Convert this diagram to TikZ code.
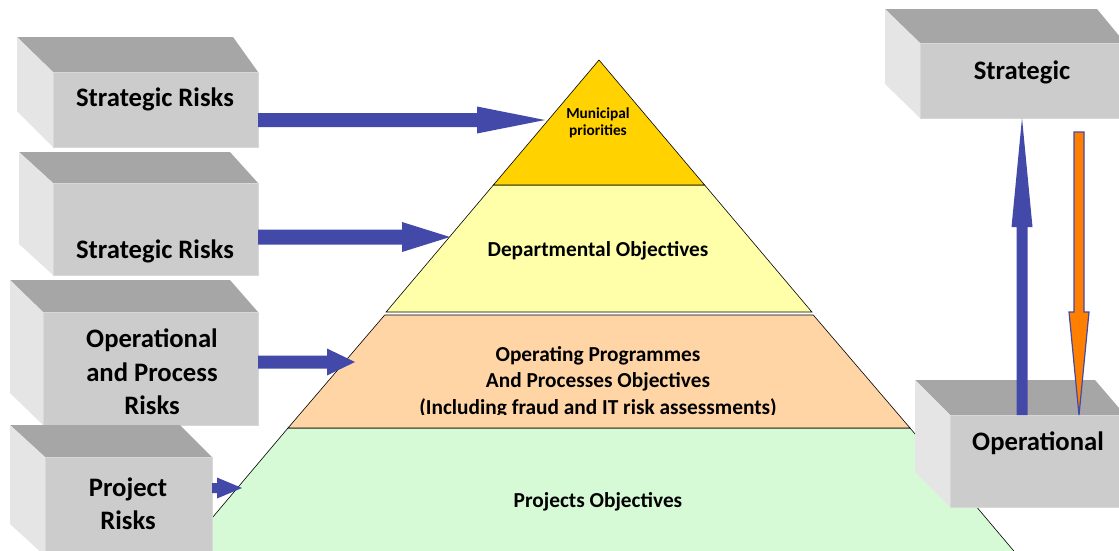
\documentclass[tikz,border=0pt]{standalone}
\usepackage{fontspec}
\setmainfont{Carlito}
\usetikzlibrary{calc,fit}
\definecolor{arrowblue}{RGB}{67,73,168}
\definecolor{topgray}{RGB}{166,166,166}
\definecolor{frontgray}{RGB}{204,204,204}
\definecolor{leftgray}{RGB}{229,229,229}
\definecolor{edgegray}{RGB}{216,216,216}
\definecolor{goldband}{RGB}{255,210,0}
\definecolor{yellowband}{RGB}{255,255,170}
\definecolor{peachband}{RGB}{255,213,166}
\definecolor{greenband}{RGB}{213,250,213}
\definecolor{arroworange}{RGB}{255,128,0}

% #1 name, #2 back-left x, #3 back y, #4 back-right x, #5 front-left x, #6 front-top y,
% #7 front-right x, #8 front-bottom y, #9 left-face bottom-left y
\newcommand\cubebox[9]{%
  \fill[topgray] (#2,#3) -- (#4,#3) -- (#7,#6) -- (#5,#6) -- cycle;
  \fill[leftgray] (#2,#3) -- (#5,#6) -- (#5,#8) -- (#2,#9) -- cycle;
  \coordinate (#1nw) at (#5,#6);
  \coordinate (#1se) at (#7,#8);
  \node[frontface, fit=(#1nw)(#1se)] (#1) {};
}
% horizontal block arrow: #1 start, #2 tip, #3 shaft half width, #4 head length, #5 head half width
\newcommand\blockarrowH[5]{%
  \fill[arrowblue] ($(#1)+(0,-#3)$) -- ($(#2)+(-#4,-#3)$) -- ($(#2)+(-#4,-#5)$) -- (#2)
    -- ($(#2)+(-#4,#5)$) -- ($(#2)+(-#4,#3)$) -- ($(#1)+(0,#3)$) -- cycle;
}

\begin{document}
\begin{tikzpicture}[x=0.75pt,y=-0.75pt,
  band/.style={draw=black, line width=0.45pt, line join=miter},
  frontface/.style={fill=frontgray, draw=edgegray, line width=0.5pt, inner sep=0pt, outer sep=0pt},
  boxlabel/.style={font=\bfseries\fontsize{20}{25}\selectfont, align=center, text=black, inner sep=0pt},
  pyrlabel/.style={font=\bfseries\fontsize{16}{19.5}\selectfont, align=center, inner sep=0pt},
  smalllabel/.style={font=\bfseries\fontsize{11.5}{12.8}\selectfont, align=center, inner sep=0pt}]
\path[use as bounding box] (0,0) rectangle (1119,550);

% ---------------- pyramid (apex 599,60; slope 0.845) ----------------
\fill[greenband] (288.0,428) -- (910.0,428) -- (1017.2,555) -- (180.8,555) -- cycle;
\draw[band] (180.8,555) -- (288.0,428) -- (910.0,428) -- (1017.2,555);
\filldraw[band, fill=peachband] (384.7,315) -- (813.3,315) -- (910.0,428) -- (288.0,428) -- cycle;
\filldraw[band, fill=yellowband] (493.4,185) -- (704.6,185) -- (811.9,312) -- (386.1,312) -- cycle;
\filldraw[band, fill=goldband] (599,60) -- (704.6,185) -- (493.4,185) -- cycle;

\node[smalllabel] (lmun) at (598,123) {Municipal\\priorities};
\node[pyrlabel] (ldep) at (598,251) {Departmental Objectives};
\node[pyrlabel] (lop1) at (598,356) {Operating Programmes};
\node[pyrlabel] (lop2) at (598,382) {And Processes Objectives};
\begin{scope}
  \clip (300,390) rectangle (900,414);
  \node[pyrlabel] (lop3) at (598,408) {(Including fraud and IT risk assessments)};
\end{scope}
\node[pyrlabel] (lproj) at (598,502) {Projects Objectives};

% ---------------- left boxes ----------------
\cubebox{b1}{17}{37}{233}{53}{72}{258}{147}{111}
\cubebox{b2}{19}{152}{230}{53}{183}{258}{275}{244}
\cubebox{b3}{10}{280}{230}{43}{312}{258}{425}{393}
\cubebox{b4}{10}{425}{180}{45}{457}{212}{556}{524}

\node[boxlabel] (t1) at (155,99) {Strategic Risks};
\node[boxlabel] (t2) at (155,251) {Strategic Risks};
\node[boxlabel] (t3) at (152,372) {Operational\\and Process\\Risks};
\node[boxlabel] (t4) at (128,504) {Project\\Risks};

% ---------------- right boxes ----------------
\cubebox{rs}{885}{9}{1097}{920}{43}{1125}{118}{84}
\cubebox{ro}{915}{380}{1095}{950}{415}{1125}{507}{472}

\node[boxlabel] (trs) at (1022,72) {Strategic};
\node[boxlabel] (tro) at (1038,443) {Operational};

% ---------------- arrows into pyramid ----------------
\coordinate (p1) at (545,120);
\coordinate (p2) at (450,237);
\coordinate (p3) at (355,362);
\coordinate (p4) at (242,488);
\coordinate (s1) at (b1.east |- p1);
\coordinate (s2) at (b2.east |- p2);
\coordinate (s3) at (b3.east |- p3);
\coordinate (s4) at (b4.east |- p4);
\blockarrowH{s1}{p1}{7}{68}{13.5}
\blockarrowH{s2}{p2}{7.5}{48}{15}
\blockarrowH{s3}{p3}{6.5}{28}{13.5}
\blockarrowH{s4}{p4}{5}{25}{10.5}

% ---------------- vertical arrows ----------------
\coordinate (upt) at (rs.south -| 1022,0);
\coordinate (ups) at (ro.north -| 1022,0);
\fill[arrowblue] ($(ups)+(-5.5,0)$) -- ($(upt)+(-5.5,109)$) -- ($(upt)+(-10.5,109)$) -- (upt)
  -- ($(upt)+(10.5,109)$) -- ($(upt)+(5.5,109)$) -- ($(ups)+(5.5,0)$) -- cycle;

\coordinate (dns) at (1079,132);
\coordinate (dnt) at (ro.north -| 1079,0);
\filldraw[fill=arroworange, draw=arrowblue, line width=0.9pt, line join=miter]
  ($(dns)+(-5,0)$) -- ($(dnt)+(-5,-103)$) -- ($(dnt)+(-10,-103)$) -- (dnt)
  -- ($(dnt)+(10,-103)$) -- ($(dnt)+(5,-103)$) -- ($(dns)+(5,0)$) -- cycle;
\end{tikzpicture}
\end{document}
